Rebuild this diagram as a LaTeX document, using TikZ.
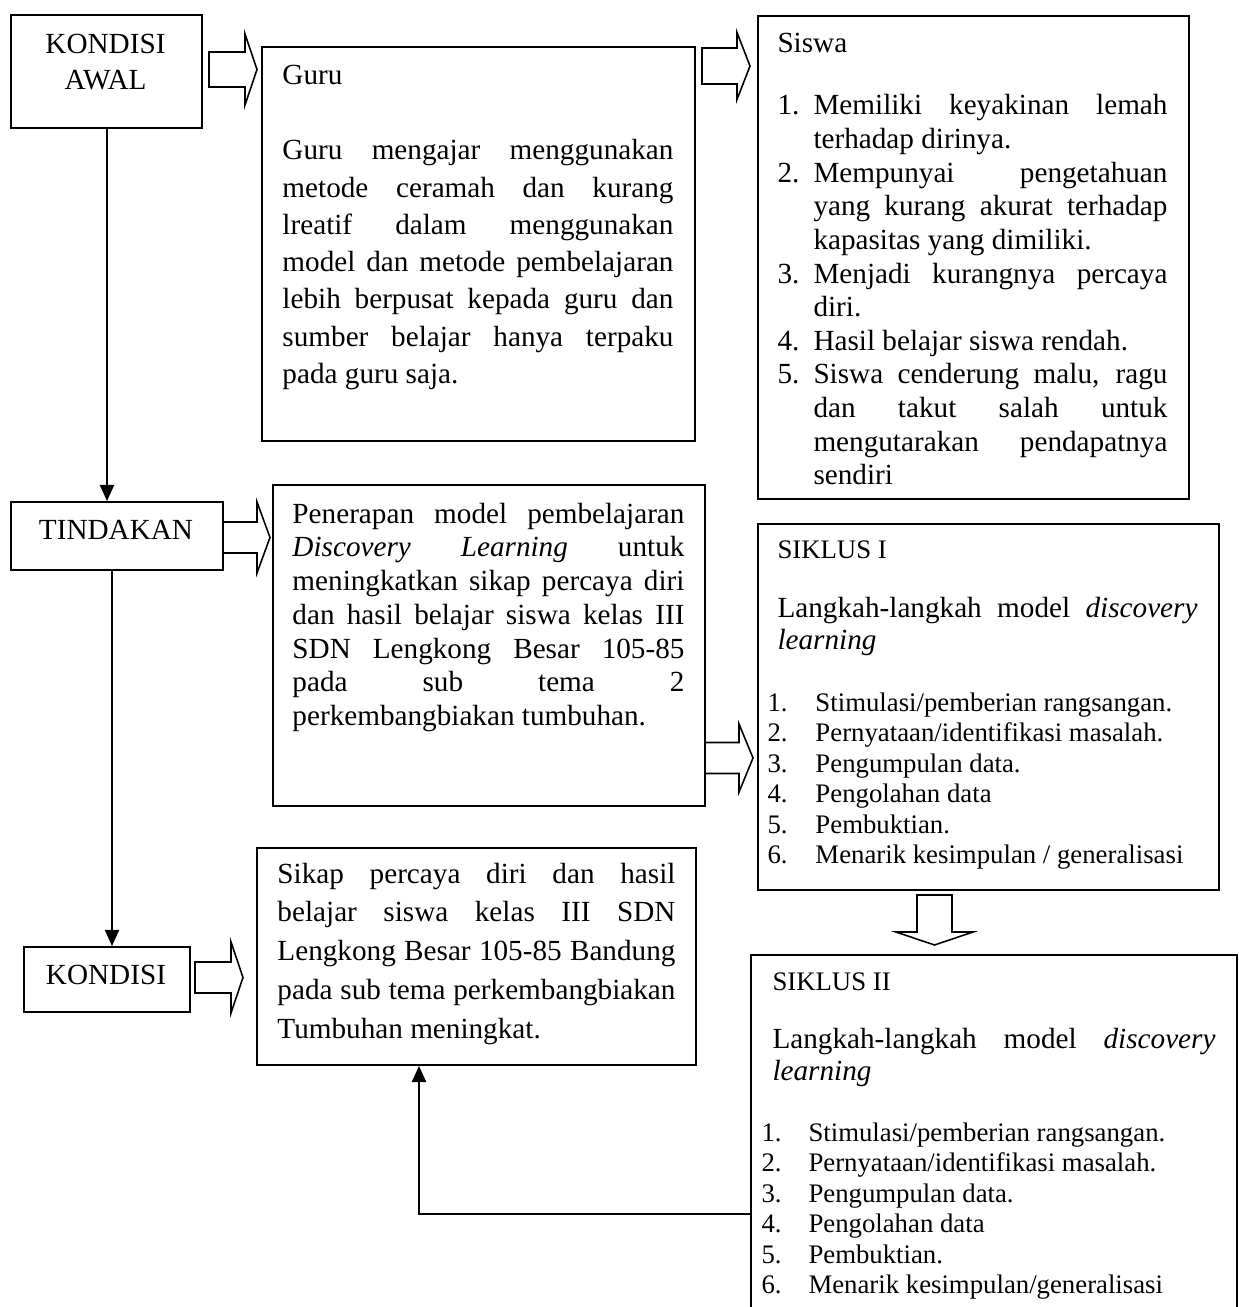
\documentclass[tikz,border=0pt]{standalone}
\usepackage{fontspec}
\setmainfont{Liberation Serif}
\usetikzlibrary{arrows.meta}
\newdimen\pxu \pxu=0.411pt
\newcommand{\mkbox}[5]{\node[boxst, minimum width={(#4-#2)*0.411pt}, minimum height={(#5-#3)*0.411pt}] (#1) at (#2,#3) {};}
\newcommand{\rarrow}[6]{\draw[barrow] (#1,#4-#5) -- (#2,#4-#5) -- (#2,#4-#6) -- (#3,#4) -- (#2,#4+#6) -- (#2,#4+#5) -- (#1,#4+#5) -- cycle;}
\newcommand{\jbox}[4]{\parbox[t]{#1\pxu}{\fontsize{#2}{#3}\selectfont\tolerance=10000 \hbadness=10000 \hyphenpenalty=10000 \exhyphenpenalty=10000 \parindent=0pt #4}}
\newcommand{\sitem}[2]{\par\hangindent=14.8pt\hangafter=1\noindent\makebox[14.8pt][l]{#1}#2}
\newcommand{\litem}[2]{\par\noindent\makebox[#1\pxu][l]{#2}}
\tikzset{
  boxst/.style={draw, line width=0.8pt, inner sep=0pt, anchor=north west},
  txt/.style={inner sep=0pt, anchor=base west},
  ctxt/.style={inner sep=0pt, anchor=base, align=center, font=\fontsize{12}{14.8}\selectfont},
  conn/.style={line width=0.8pt, -{Triangle[length=6.6pt,width=5.8pt]}},
  barrow/.style={draw, line width=0.65pt, line join=miter},
}
\begin{document}
\begin{tikzpicture}[x=0.411pt, y=-0.411pt]
\clip (0,0) rectangle (1238,1307);
\fill[white] (0,0) rectangle (1238,1307);

% boxes
\mkbox{ka}{10}{14}{201}{127}
\mkbox{guru}{261}{46}{694}{440}
\mkbox{siswa}{757}{15}{1188}{498}
\mkbox{tind}{10}{501}{222}{569}
\mkbox{pen}{272}{484}{704}{805}
\mkbox{sa}{757}{523}{1218}{889}
\mkbox{kond}{23}{946}{189}{1011}
\mkbox{sikap}{256}{847}{695}{1064}
\mkbox{sb}{750}{954}{1236}{1340}

% block arrows
\rarrow{209}{245}{257}{69.5}{17.5}{35.5}
\rarrow{702}{737}{750}{66}{18}{33.5}
\rarrow{223}{257}{270}{537.5}{15.5}{35.5}
\rarrow{705}{739}{753}{758}{15.5}{34}
\rarrow{195}{231}{243}{977.5}{15.5}{35.5}
\draw[barrow] (917,895) -- (952,895) -- (952,932) -- (973,932) -- (934.5,945) -- (896,932) -- (917,932) -- cycle;

% connectors
\coordinate (c1) at (107,0);
\draw[conn] (ka.south -| c1) -- (tind.north -| c1);
\coordinate (c2) at (112,0);
\draw[conn] (tind.south -| c2) -- (kond.north -| c2);
\coordinate (c3) at (419,1214);
\draw[conn] (sb.west |- c3) -- (c3) -- (sikap.south -| c3);

% texts
\node[ctxt] (tka) at (105.5,90) {KONDISI\\AWAL};
\node[ctxt] (ttind) at (116,539) {TINDAKAN};
\node[ctxt] (tkond) at (106,984) {KONDISI};

\node[txt, font=\fontsize{12}{14}\selectfont] (tguruh) at (282,85) {Guru};
\node[txt] (tguru) at (282,160) {\jbox{391}{12}{15.29}{Guru mengajar menggunakan\linebreak metode ceramah dan kurang\linebreak lreatif dalam menggunakan\linebreak model dan metode pembelajaran\linebreak lebih berpusat kepada guru dan\linebreak sumber belajar hanya terpaku\linebreak pada guru saja.}};

\node[txt, font=\fontsize{12}{14}\selectfont] (tsiswah) at (777,53) {Siswa};
\node[txt] (tsiswa) at (777,115) {\jbox{390}{12}{13.81}{%
\sitem{1.}{Memiliki keyakinan lemah\linebreak terhadap dirinya.}
\sitem{2.}{Mempunyai pengetahuan\linebreak yang kurang akurat terhadap\linebreak kapasitas yang dimiliki.}
\sitem{3.}{Menjadi kurangnya percaya\linebreak diri.}
\sitem{4.}{Hasil belajar siswa rendah.}
\sitem{5.}{Siswa cenderung malu, ragu\linebreak dan takut salah untuk\linebreak mengutarakan pendapatnya\linebreak sendiri}}};

\node[txt] (tpen) at (292,523) {\jbox{392}{12}{13.89}{Penerapan model pembelajaran\linebreak \textit{Discovery Learning} untuk\linebreak meningkatkan sikap percaya diri\linebreak dan hasil belajar siswa kelas III\linebreak SDN Lengkong Besar 105-85\linebreak pada sub tema 2\linebreak perkembangbiakan tumbuhan.}};

\node[txt, font=\fontsize{11}{13}\selectfont] (tsah) at (777,558) {SIKLUS I};
\node[txt] (tsal) at (777,617) {\jbox{420}{12}{13.56}{Langkah-langkah model \textit{discovery}\linebreak \textit{learning}}};
\node[txt] (tsai) at (767,711) {\parbox[t]{450\pxu}{\fontsize{11}{12.54}\selectfont\raggedright
\litem{48}{1.}Stimulasi/pemberian rangsangan.
\litem{48}{2.}Pernyataan/identifikasi masalah.
\litem{48}{3.}Pengumpulan data.
\litem{48}{4.}Pengolahan data
\litem{48}{5.}Pembuktian.
\litem{48}{6.}Menarik kesimpulan / generalisasi}};

\node[txt] (tsikap) at (277,883) {\jbox{398}{12}{15.93}{Sikap percaya diri dan hasil\linebreak belajar siswa kelas III SDN\linebreak Lengkong Besar 105-85 Bandung\linebreak pada sub tema perkembangbiakan\linebreak Tumbuhan meningkat.}};

\node[txt, font=\fontsize{11}{13}\selectfont] (tsbh) at (772,990) {SIKLUS II};
\node[txt] (tsbl) at (772,1048) {\jbox{443}{12}{13.3}{Langkah-langkah model \textit{discovery}\linebreak \textit{learning}}};
\node[txt] (tsbi) at (761,1141) {\parbox[t]{460\pxu}{\fontsize{11}{12.54}\selectfont\raggedright
\litem{47}{1.}Stimulasi/pemberian rangsangan.
\litem{47}{2.}Pernyataan/identifikasi masalah.
\litem{47}{3.}Pengumpulan data.
\litem{47}{4.}Pengolahan data
\litem{47}{5.}Pembuktian.
\litem{47}{6.}Menarik kesimpulan/generalisasi}};
\end{tikzpicture}
\end{document}
